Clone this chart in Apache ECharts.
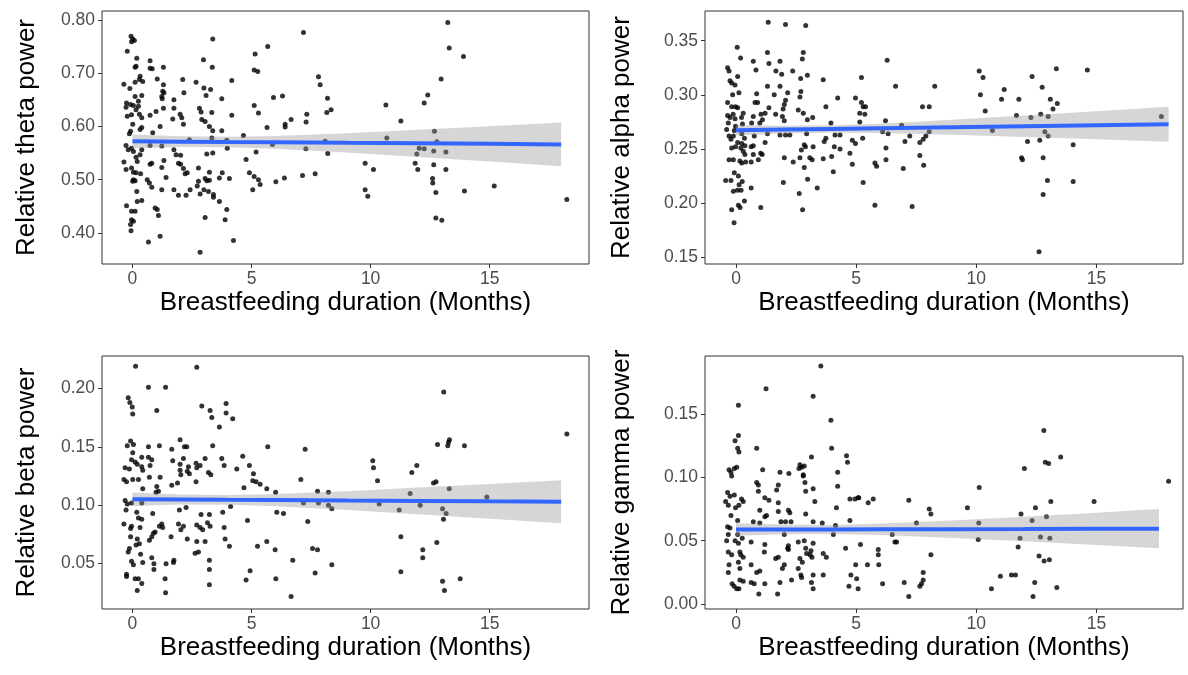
<!DOCTYPE html>
<html>
<head>
<meta charset="utf-8">
<script src="https://cdn.jsdelivr.net/npm/echarts@6/dist/echarts.min.js"></script>
<style>html,body{margin:0;padding:0;background:#fff}#c{width:1188px;height:675px}</style>
</head>
<body>
<div id="c"></div>
<script>
// ---------- DATA ----------
const xTickValues = [0, 5, 10, 15];
const xTitle = 'Breastfeeding duration (Months)';

const thetaTicks = [0.40, 0.50, 0.60, 0.70, 0.80];
const alphaTicks = [0.15, 0.20, 0.25, 0.30, 0.35];
const betaTicks  = [0.05, 0.10, 0.15, 0.20];
const gammaTicks = [0.00, 0.05, 0.10, 0.15];

const thetaPoints = [
[-0.06,0.769],[0.01,0.764],[-0.04,0.759],[0.08,0.761],[-0.22,0.741],[3.37,0.764],[5.15,0.736],[0.18,0.728],[0.74,0.723],[0.15,0.713],
[0.11,0.711],[0.74,0.709],[0.83,0.708],[1.30,0.711],[2.98,0.725],[3.35,0.711],[5.11,0.706],[5.26,0.703],[0.32,0.694],[-0.36,0.679],
[-0.11,0.671],[0.11,0.683],[0.29,0.688],[0.43,0.684],[1.04,0.689],[1.30,0.678],[1.27,0.666],[2.11,0.688],[2.67,0.683],[3.00,0.672],
[3.28,0.669],[3.09,0.658],[4.17,0.686],[0.39,0.658],[0.11,0.656],[0.25,0.647],[-0.25,0.644],[1.23,0.656],[1.32,0.663],[1.25,0.652],
[1.74,0.650],[2.16,0.663],[3.75,0.652],[-0.27,0.636],[-0.08,0.641],[0.04,0.639],[0.25,0.638],[0.15,0.631],[0.29,0.623],[-0.22,0.619],
[-0.04,0.622],[0.39,0.616],[0.74,0.621],[0.99,0.628],[1.30,0.634],[1.74,0.634],[1.69,0.614],[2.00,0.623],[2.07,0.616],[2.81,0.634],
[2.88,0.627],[2.91,0.613],[3.33,0.626],[4.17,0.621],[5.11,0.639],[5.29,0.625],[0.01,0.604],[0.39,0.598],[-0.08,0.591],[-0.13,0.586],
[0.32,0.594],[1.16,0.600],[0.85,0.588],[2.14,0.604],[2.39,0.575],[3.05,0.609],[3.23,0.600],[3.37,0.592],[3.33,0.578],[3.75,0.592],
[4.66,0.583],[3.96,0.574],[-0.27,0.564],[-0.18,0.556],[-0.04,0.559],[0.04,0.553],[0.39,0.556],[0.74,0.564],[1.23,0.563],[1.74,0.556],
[2.02,0.546],[3.98,0.559],[5.19,0.552],[0.15,0.542],[0.32,0.547],[0.20,0.534],[-0.36,0.533],[-0.27,0.519],[-0.04,0.522],[0.04,0.514],
[0.15,0.513],[0.34,0.511],[0.74,0.529],[0.81,0.531],[1.23,0.523],[1.32,0.536],[1.83,0.547],[1.93,0.531],[2.02,0.529],[2.14,0.521],
[2.21,0.511],[2.30,0.513],[2.77,0.522],[3.12,0.548],[3.37,0.550],[3.23,0.514],[3.77,0.513],[4.77,0.538],[4.91,0.513],[0.04,0.500],
[0.01,0.497],[0.11,0.498],[0.18,0.478],[0.62,0.500],[0.71,0.494],[0.81,0.486],[1.23,0.481],[1.41,0.504],[1.74,0.481],[1.93,0.471],
[2.25,0.471],[2.42,0.481],[2.72,0.488],[2.77,0.497],[2.84,0.473],[3.05,0.502],[3.12,0.498],[3.23,0.499],[3.00,0.481],[3.19,0.478],
[3.40,0.472],[3.40,0.467],[3.65,0.503],[4.07,0.502],[5.11,0.506],[5.05,0.481],[5.29,0.500],[-0.25,0.451],[-0.04,0.441],[0.11,0.441],
[0.20,0.459],[0.39,0.461],[0.95,0.447],[1.04,0.444],[1.09,0.433],[3.05,0.429],[3.65,0.459],[3.89,0.425],[3.96,0.444],[-0.04,0.425],
[-0.08,0.416],[0.04,0.422],[-0.06,0.404],[0.67,0.383],[1.16,0.394],[2.84,0.364],[4.24,0.386],
[7.18,0.776],[5.68,0.750],[7.81,0.693],[7.88,0.678],[5.92,0.654],[6.30,0.657],[8.19,0.653],[7.32,0.623],[8.16,0.626],[8.34,0.631],
[5.65,0.598],[6.41,0.604],[6.41,0.599],[6.66,0.613],[7.29,0.608],[10.64,0.640],[11.27,0.610],[10.68,0.578],[7.28,0.558],[8.20,0.549],
[5.88,0.566],[8.09,0.572],[9.77,0.531],[10.12,0.519],[9.77,0.481],[9.88,0.469],[5.36,0.491],[6.02,0.496],[6.38,0.503],[7.14,0.508],[7.67,0.511],
[13.24,0.795],[13.30,0.747],[13.90,0.731],[12.96,0.689],[12.40,0.659],[12.25,0.644],[12.68,0.591],[12.78,0.571],[12.04,0.559],[12.25,0.558],
[11.94,0.548],[12.65,0.554],[13.16,0.552],[11.87,0.531],[11.98,0.519],[12.65,0.528],[13.16,0.519],[12.60,0.502],[12.61,0.494],[12.74,0.476],
[13.94,0.479],[15.19,0.488],[12.74,0.428],[12.99,0.424],[18.24,0.463]
];

const alphaPoints = [
[1.34,0.367],[2.06,0.365],[2.90,0.364],[0.05,0.344],[0.19,0.334],[0.72,0.331],[1.31,0.339],[1.37,0.329],[1.83,0.331],[2.80,0.339],
[2.76,0.333],[-0.35,0.325],[-0.29,0.322],[0.07,0.317],[0.83,0.323],[1.66,0.322],[1.90,0.319],[2.36,0.322],[2.97,0.318],[2.69,0.315],
[3.63,0.314],[-0.25,0.313],[-0.18,0.311],[-0.04,0.309],[1.31,0.308],[1.83,0.308],[-0.14,0.300],[0.12,0.302],[0.86,0.301],[1.59,0.300],
[2.15,0.302],[2.70,0.303],[2.66,0.298],[4.23,0.297],[4.97,0.297],[-0.35,0.293],[-0.18,0.289],[-0.02,0.289],[0.07,0.288],[0.79,0.293],
[0.90,0.293],[2.06,0.295],[2.01,0.291],[1.37,0.288],[1.96,0.287],[2.59,0.286],[3.74,0.289],[-0.35,0.281],[-0.25,0.279],[-0.12,0.282],
[-0.04,0.278],[0.30,0.283],[0.23,0.279],[0.72,0.280],[1.04,0.282],[1.10,0.277],[1.21,0.283],[1.65,0.282],[1.93,0.280],[2.01,0.276],
[2.80,0.283],[2.97,0.277],[3.19,0.279],[-0.32,0.274],[-0.02,0.271],[-0.07,0.267],[0.27,0.273],[0.65,0.274],[0.99,0.274],[0.24,0.264],
[1.31,0.264],[1.83,0.263],[2.06,0.263],[2.24,0.263],[2.94,0.264],[3.95,0.274],[4.12,0.263],[4.33,0.263],[-0.39,0.268],[-0.29,0.262],
[-0.21,0.259],[-0.11,0.262],[0.07,0.256],[0.24,0.255],[0.35,0.260],[0.76,0.262],[1.21,0.256],[4.84,0.258],[4.97,0.255],[-0.18,0.251],
[-0.02,0.252],[0.20,0.251],[0.37,0.253],[0.63,0.252],[0.72,0.253],[0.30,0.248],[0.37,0.245],[0.72,0.245],[1.03,0.246],[1.09,0.245],
[2.84,0.254],[2.89,0.252],[3.21,0.252],[3.67,0.257],[3.74,0.260],[4.09,0.252],[4.33,0.250],[4.74,0.246],[2.72,0.249],[3.07,0.242],
[3.17,0.240],[2.66,0.242],[2.38,0.238],[2.01,0.242],[-0.29,0.240],[-0.11,0.240],[0.16,0.239],[0.24,0.237],[0.40,0.238],[0.63,0.238],
[0.93,0.240],[3.63,0.241],[3.98,0.243],[4.84,0.236],[2.84,0.233],[4.05,0.229],[-0.43,0.221],[-0.21,0.221],[-0.07,0.228],[0.10,0.225],
[0.26,0.220],[0.13,0.217],[0.21,0.212],[-0.11,0.211],[0.06,0.212],[0.63,0.214],[1.97,0.219],[2.98,0.222],[3.38,0.214],[2.63,0.209],
[0.35,0.202],[0.10,0.198],[0.17,0.196],[-0.18,0.194],[1.03,0.196],[2.77,0.194],[-0.08,0.182],
[6.29,0.332],[5.22,0.316],[6.64,0.308],[8.27,0.308],[10.12,0.322],[10.28,0.316],[10.17,0.300],[11.16,0.305],[11.05,0.296],[5.22,0.293],
[5.29,0.289],[5.39,0.289],[5.15,0.283],[5.36,0.282],[7.76,0.289],[8.04,0.289],[10.37,0.285],[5.15,0.275],[6.22,0.276],[6.89,0.272],
[6.10,0.266],[6.33,0.264],[8.04,0.266],[10.67,0.267],[5.27,0.260],[7.03,0.257],[7.23,0.262],[7.65,0.256],[7.79,0.259],[7.90,0.262],
[6.24,0.251],[5.78,0.237],[5.85,0.234],[6.24,0.240],[6.96,0.232],[7.65,0.244],[7.81,0.235],[5.29,0.219],[5.78,0.198],[7.33,0.197],
[13.33,0.324],[14.62,0.323],[12.32,0.317],[12.74,0.307],[11.77,0.296],[13.08,0.296],[13.37,0.292],[13.19,0.287],[11.67,0.281],[12.27,0.279],
[12.68,0.282],[12.99,0.280],[17.70,0.280],[12.85,0.266],[12.99,0.262],[12.13,0.257],[12.64,0.258],[14.03,0.254],[11.88,0.242],[11.92,0.240],
[12.78,0.242],[12.96,0.221],[14.03,0.220],[12.78,0.208],[12.61,0.155]
];

const betaPoints = [
[0.13,0.219],[2.70,0.218],[0.67,0.201],[1.39,0.201],[-0.18,0.192],[-0.11,0.188],[-0.01,0.184],[0.01,0.178],[1.02,0.181],[2.91,0.185],
[3.26,0.181],[3.33,0.175],[3.93,0.187],[3.93,0.179],[4.21,0.174],[3.65,0.167],[-0.22,0.151],[-0.08,0.155],[0.04,0.152],[0.01,0.145],
[0.67,0.150],[1.13,0.151],[1.65,0.148],[2.00,0.156],[2.18,0.150],[2.28,0.150],[3.37,0.151],[-0.04,0.139],[0.11,0.137],[0.20,0.135],
[0.39,0.141],[0.67,0.141],[0.81,0.139],[0.74,0.134],[1.69,0.138],[2.00,0.135],[2.14,0.140],[2.35,0.133],[2.67,0.136],[2.70,0.132],
[2.84,0.134],[3.05,0.140],[3.19,0.128],[3.29,0.126],[3.75,0.140],[3.85,0.134],[4.38,0.131],[4.63,0.142],[4.91,0.134],[-0.31,0.132],
[-0.13,0.131],[0.39,0.133],[0.43,0.130],[-0.36,0.122],[-0.25,0.120],[0.01,0.122],[0.25,0.122],[0.71,0.124],[1.16,0.124],[2.00,0.130],
[2.30,0.129],[2.39,0.127],[2.03,0.126],[2.67,0.120],[0.43,0.114],[1.02,0.116],[1.09,0.112],[0.99,0.111],[1.65,0.117],[1.89,0.119],
[4.68,0.115],[5.08,0.127],[5.05,0.121],[5.19,0.120],[-0.31,0.104],[-0.22,0.101],[-0.04,0.102],[-0.27,0.096],[0.18,0.094],[0.39,0.102],
[1.97,0.096],[2.25,0.098],[0.25,0.089],[0.39,0.088],[0.85,0.093],[2.88,0.092],[3.23,0.092],[3.79,0.094],[4.12,0.099],[4.83,0.087],
[-0.36,0.084],[-0.04,0.082],[-0.08,0.080],[0.32,0.081],[1.13,0.082],[1.23,0.084],[1.27,0.081],[1.93,0.084],[2.03,0.079],[2.14,0.082],
[2.70,0.083],[2.84,0.081],[2.95,0.079],[3.15,0.085],[3.26,0.082],[3.85,0.081],[-0.08,0.073],[0.20,0.071],[0.29,0.067],[0.15,0.066],
[0.71,0.070],[0.81,0.073],[0.88,0.076],[0.95,0.077],[1.62,0.073],[2.30,0.071],[2.70,0.069],[3.05,0.069],[3.89,0.071],[4.07,0.065],
[5.25,0.065],[-0.13,0.063],[-0.18,0.060],[0.34,0.058],[-0.04,0.052],[0.04,0.049],[0.43,0.051],[0.81,0.055],[0.90,0.050],[0.90,0.045],
[1.41,0.050],[1.74,0.053],[1.72,0.051],[2.63,0.059],[2.77,0.060],[3.23,0.053],[3.23,0.045],[4.77,0.036],[4.94,0.044],[-0.25,0.041],
[-0.25,0.039],[0.11,0.037],[0.25,0.037],[0.39,0.033],[0.20,0.027],[1.37,0.037],[1.39,0.025],[3.23,0.032],
[5.68,0.150],[7.25,0.148],[5.36,0.118],[5.64,0.114],[6.01,0.111],[7.07,0.122],[7.77,0.112],[8.23,0.111],[10.09,0.138],[10.12,0.132],
[10.29,0.121],[11.73,0.128],[11.66,0.110],[7.18,0.102],[7.81,0.102],[8.23,0.100],[10.36,0.101],[11.20,0.096],[8.37,0.097],[6.06,0.094],
[6.34,0.093],[7.36,0.086],[5.64,0.069],[5.99,0.062],[7.56,0.063],[7.77,0.062],[6.73,0.053],[8.37,0.049],[7.67,0.042],[6.02,0.037],
[6.66,0.022],[11.27,0.073],[11.27,0.043],
[13.07,0.197],[12.81,0.152],[13.24,0.151],[13.31,0.156],[13.27,0.154],[13.94,0.151],[18.24,0.161],[11.94,0.134],[12.64,0.119],[12.75,0.120],
[13.30,0.114],[14.88,0.107],[12.08,0.100],[13.02,0.097],[13.17,0.093],[13.06,0.088],[12.78,0.068],[12.19,0.062],[12.19,0.055],[13.02,0.035],
[13.76,0.037],[13.10,0.027]
];

const gammaPoints = [
[3.53,0.188],[1.25,0.170],[3.21,0.164],[0.10,0.157],[3.95,0.145],[0.10,0.133],[-0.04,0.129],[0.07,0.123],[0.12,0.120],[0.86,0.123],
[3.98,0.123],[3.14,0.116],[4.60,0.117],[4.64,0.112],[2.66,0.110],[2.73,0.108],[2.84,0.109],[2.62,0.107],[-0.29,0.106],[-0.21,0.104],
[-0.07,0.107],[0.03,0.108],[-0.18,0.101],[1.11,0.106],[1.83,0.104],[2.20,0.103],[2.80,0.102],[2.80,0.101],[4.23,0.104],[0.86,0.096],
[0.93,0.094],[1.76,0.094],[1.69,0.090],[2.87,0.096],[3.21,0.091],[2.90,0.089],[4.23,0.093],[0.93,0.089],[-0.35,0.088],[-0.25,0.085],
[-0.07,0.086],[1.20,0.084],[1.37,0.082],[1.76,0.080],[3.28,0.081],[4.74,0.083],[4.95,0.083],[-0.43,0.081],[-0.32,0.078],[-0.02,0.076],
[0.12,0.078],[0.23,0.083],[0.30,0.081],[0.99,0.074],[1.27,0.070],[1.20,0.069],[1.76,0.073],[2.18,0.074],[2.24,0.072],[2.90,0.071],
[4.18,0.076],[-0.21,0.070],[0.07,0.066],[0.72,0.065],[0.99,0.064],[1.87,0.065],[2.06,0.065],[2.29,0.065],[3.21,0.065],[3.59,0.064],
[4.14,0.062],[4.74,0.066],[-0.35,0.061],[-0.25,0.060],[0.07,0.055],[2.01,0.055],[4.05,0.055],[-0.32,0.055],[-0.39,0.050],[-0.04,0.050],
[0.10,0.048],[0.26,0.052],[0.63,0.049],[1.20,0.047],[2.18,0.046],[2.15,0.044],[2.59,0.049],[2.84,0.050],[3.21,0.048],[4.56,0.044],
[-0.32,0.041],[-0.18,0.039],[0.16,0.041],[0.20,0.039],[0.30,0.037],[1.18,0.041],[1.76,0.037],[1.65,0.036],[2.18,0.043],[2.90,0.044],
[2.94,0.040],[3.12,0.042],[3.08,0.039],[3.16,0.037],[2.66,0.036],[2.76,0.033],[3.63,0.040],[3.76,0.037],[4.98,0.031],[-0.29,0.031],
[0.10,0.033],[0.16,0.028],[0.63,0.031],[0.86,0.025],[0.99,0.026],[2.01,0.031],[1.93,0.028],[2.59,0.028],[3.63,0.023],[-0.32,0.025],
[4.78,0.023],[-0.16,0.016],[-0.08,0.014],[0.03,0.012],[0.12,0.012],[0.16,0.019],[0.30,0.018],[0.63,0.017],[0.76,0.016],[0.95,0.008],
[1.20,0.016],[1.73,0.008],[1.83,0.017],[2.31,0.019],[2.70,0.023],[2.73,0.021],[3.14,0.017],[3.21,0.023],[3.21,0.012],[4.70,0.014],
[5.02,0.020],
[10.12,0.092],[5.08,0.084],[5.11,0.084],[5.50,0.080],[5.71,0.083],[7.19,0.082],[8.04,0.075],[8.11,0.071],[9.63,0.076],[7.51,0.064],
[10.10,0.064],[6.50,0.055],[10.08,0.051],[6.61,0.049],[6.68,0.049],[5.18,0.047],[5.92,0.043],[5.92,0.039],[8.11,0.039],[5.47,0.031],
[5.94,0.031],[7.79,0.025],[7.79,0.019],[7.72,0.016],[7.65,0.014],[5.08,0.012],[6.10,0.016],[7.00,0.017],[7.19,0.006],[11.00,0.022],
[10.63,0.012],[11.46,0.023],[11.63,0.023],
[12.81,0.137],[13.51,0.116],[12.87,0.112],[13.01,0.111],[12.00,0.107],[18.00,0.097],[13.10,0.081],[14.90,0.081],[12.46,0.076],[11.86,0.071],
[12.32,0.066],[12.92,0.069],[11.82,0.052],[12.67,0.053],[13.06,0.052],[11.74,0.045],[12.61,0.038],[12.82,0.034],[13.04,0.035],[12.43,0.017],
[13.35,0.013],[12.36,0.006]
];

// fitted line and 95% band, read at these x positions
const bandX      = [0, 2, 4, 6, 9, 12, 15, 18];
const gammaBandX = [0, 2, 4, 6, 9, 12, 15, 17.6];

const thetaFit   = [0.5720, 0.5714, 0.5707, 0.5701, 0.5691, 0.5682, 0.5672, 0.5662];
const thetaLower = [0.5590, 0.5614, 0.5609, 0.5581, 0.5511, 0.5427, 0.5342, 0.5252];
const thetaUpper = [0.5850, 0.5814, 0.5805, 0.5821, 0.5871, 0.5937, 0.6002, 0.6072];

const alphaFit   = [0.2673, 0.2679, 0.2685, 0.2691, 0.2701, 0.2710, 0.2719, 0.2728];
const alphaLower = [0.2625, 0.2644, 0.2652, 0.2648, 0.2632, 0.2611, 0.2589, 0.2566];
const alphaUpper = [0.2721, 0.2714, 0.2718, 0.2734, 0.2770, 0.2809, 0.2849, 0.2890];

const betaFit    = [0.1051, 0.1049, 0.1046, 0.1044, 0.1040, 0.1037, 0.1033, 0.1030];
const betaLower  = [0.0994, 0.1006, 0.1005, 0.0992, 0.0960, 0.0923, 0.0885, 0.0846];
const betaUpper  = [0.1108, 0.1092, 0.1087, 0.1096, 0.1120, 0.1151, 0.1181, 0.1214];

const gammaFit   = [0.0588, 0.0589, 0.0589, 0.0590, 0.0591, 0.0592, 0.0594, 0.0595];
const gammaLower = [0.0539, 0.0551, 0.0553, 0.0545, 0.0522, 0.0495, 0.0467, 0.0440];
const gammaUpper = [0.0637, 0.0627, 0.0625, 0.0635, 0.0660, 0.0689, 0.0721, 0.0750];

// ---------- LAYOUT ----------
const FONT = '"Liberation Sans", Arial, sans-serif';
const panels = [
  {title:'Relative theta power', pts:thetaPoints, bx:bandX, fit:thetaFit, lo:thetaLower, hi:thetaUpper, yt:thetaTicks,
   grid:{left:102, top:11, width:487, height:253}, x:[-1.28, 19.17], y:[0.3418, 0.8165], gap:62},
  {title:'Relative alpha power', pts:alphaPoints, bx:bandX, fit:alphaFit, lo:alphaLower, hi:alphaUpper, yt:alphaTicks,
   grid:{left:705, top:11, width:478, height:253}, x:[-1.29, 18.6], y:[0.1438, 0.3774], gap:70},
  {title:'Relative beta power', pts:betaPoints, bx:bandX, fit:betaFit, lo:betaLower, hi:betaUpper, yt:betaTicks,
   grid:{left:102, top:356, width:487, height:253}, x:[-1.28, 19.17], y:[0.0112, 0.2277], gap:62},
  {title:'Relative gamma power', pts:gammaPoints, bx:gammaBandX, fit:gammaFit, lo:gammaLower, hi:gammaUpper, yt:gammaTicks,
   grid:{left:705, top:356, width:478, height:253}, x:[-1.29, 18.6], y:[-0.0039, 0.1958], gap:70}
];

const grids = [], xAxes = [], yAxes = [], series = [];
panels.forEach((p, i) => {
  grids.push(Object.assign({show:true, borderColor:'#333333', borderWidth:1, backgroundColor:'#fff'}, p.grid));
  xAxes.push({
    type:'value', gridIndex:i, min:p.x[0], max:p.x[1], position:'bottom',
    name:xTitle, nameLocation:'middle', nameGap:26,
    nameTextStyle:{fontFamily:FONT, fontSize:26, color:'#000'},
    axisLine:{show:false, onZero:false}, splitLine:{show:false},
    axisTick:{show:true, length:4, customValues:xTickValues, lineStyle:{color:'#333'}},
    axisLabel:{customValues:xTickValues, fontFamily:FONT, fontSize:17.5, color:'#4d4d4d', margin:6}
  });
  yAxes.push({
    type:'value', gridIndex:i, min:p.y[0], max:p.y[1], position:'left',
    name:p.title, nameLocation:'middle', nameGap:p.gap,
    nameTextStyle:{fontFamily:FONT, fontSize:26, color:'#000'},
    axisLine:{show:false, onZero:false}, splitLine:{show:false},
    axisTick:{show:true, length:4, customValues:p.yt, lineStyle:{color:'#333'}},
    axisLabel:{customValues:p.yt, fontFamily:FONT, fontSize:17.5, color:'#4d4d4d', margin:7,
               formatter:v => Number(v).toFixed(2)}
  });
  series.push({
    type:'scatter', xAxisIndex:i, yAxisIndex:i, data:p.pts, symbolSize:5,
    itemStyle:{color:'#000'}, z:2, silent:true
  });
  series.push({
    type:'custom', xAxisIndex:i, yAxisIndex:i, data:[[0, 0]], z:3, silent:true,
    renderItem:(params, api) => {
      const top = p.bx.map((x, k) => api.coord([x, p.hi[k]]));
      const bot = p.bx.map((x, k) => api.coord([x, p.lo[k]])).reverse();
      return {type:'polygon', shape:{points:top.concat(bot)}, style:{fill:'rgba(153,153,153,0.4)'}};
    }
  });
  series.push({
    type:'line', xAxisIndex:i, yAxisIndex:i, data:p.bx.map((x, k) => [x, p.fit[k]]),
    showSymbol:false, lineStyle:{color:'#3366FF', width:4}, z:4, silent:true
  });
});

const chart = echarts.init(document.getElementById('c'), null, {renderer:'canvas'});
chart.setOption({animation:false, backgroundColor:'#fff', grid:grids, xAxis:xAxes, yAxis:yAxes, series:series});
</script>
</body>
</html>
